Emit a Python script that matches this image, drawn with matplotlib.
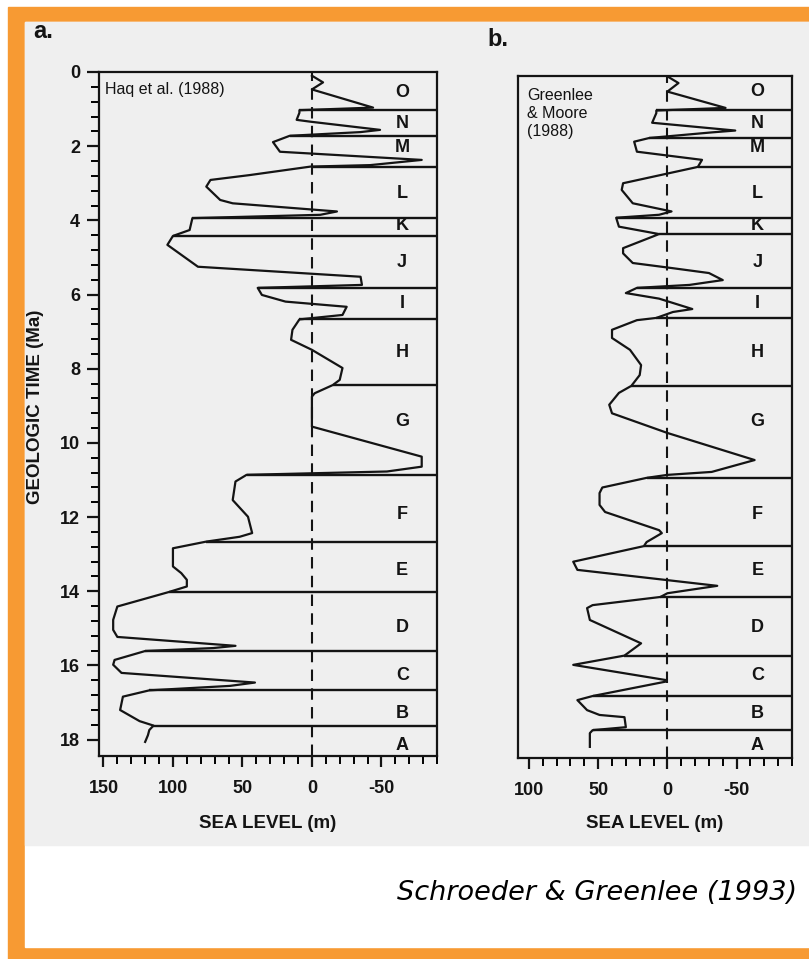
import numpy as np
import matplotlib
matplotlib.use("Agg")
import matplotlib.pyplot as plt
from matplotlib.patches import Rectangle

W, H = 809, 959

# ---- sea-level curves (age in Ma, sea level in m) ----
haq_age = [0.10, 0.28, 0.47, 0.96, 1.03, 1.10, 1.29, 1.34, 1.56, 1.62, 1.72, 1.89,
           2.15, 2.37, 2.51, 2.55, 2.78, 2.91, 3.09, 3.45, 3.54, 3.76, 3.85, 3.94,
           4.26, 4.42, 4.66, 5.25, 5.52, 5.74, 5.82, 6.01, 6.19, 6.33, 6.55, 6.67,
           6.95, 7.22, 7.31, 7.49, 7.98, 8.30, 8.44, 8.66, 8.75, 9.56, 10.37, 10.64,
           10.77, 10.86, 11.04, 11.54, 11.99, 12.43, 12.53, 12.66, 12.84, 13.33, 13.51,
           13.69, 13.87, 14.02, 14.41, 14.77, 15.04, 15.23, 15.47, 15.53, 15.61, 15.85,
           15.98, 16.20, 16.46, 16.55, 16.67, 16.84, 17.20, 17.50, 17.62, 17.74, 17.88,
           18.06]
haq_sl = [0, -8, 0, -44, 9, 9, 11, 1, -49, -35, 16, 28,
          23, -79, -42, 1, 45, 73, 76, 66, 57, -18, -6, 86,
          88, 100, 104, 82, -35, -36, 39, 36, 19, -25, -22, 9,
          14, 15, 10, 0, -22, -20, -15, -2, 0, 0, -79, -79,
          -54, 47, 55, 57, 46, 43, 52, 76, 100, 100, 94,
          90, 90, 103, 140, 143, 143, 140, 55, 71, 120, 142,
          143, 137, 41, 59, 117, 136, 138, 124, 114, 117, 118,
          120]
haq_bounds = [1.03, 1.72, 2.55, 3.94, 4.42, 5.82, 6.67, 8.44, 10.86, 12.66,
              14.02, 15.61, 16.67, 17.62]
haq_bound_start = [9, 16, 1, 86, 100, 39, 9, -15, 47, 76, 103, 120, 117, 114]

gm_age = [0.12, 0.30, 0.53, 0.97, 1.04, 1.11, 1.37, 1.58, 1.63, 1.78, 1.88, 2.15,
          2.37, 2.56, 3.00, 3.18, 3.54, 3.76, 3.85, 3.93, 4.17, 4.37, 4.75, 4.89,
          5.15, 5.29, 5.42, 5.61, 5.74, 5.82, 5.96, 6.11, 6.39, 6.47, 6.63, 6.69,
          6.95, 7.17, 7.49, 7.90, 8.17, 8.46, 8.65, 8.97, 9.20, 9.73, 10.46, 10.78,
          10.86, 10.94, 11.20, 11.35, 11.67, 11.86, 12.35, 12.43, 12.67, 12.78, 13.20,
          13.42, 13.56, 13.85, 14.05, 14.15, 14.37, 14.45, 14.77, 15.40, 15.73, 15.98,
          16.39, 16.43, 16.82, 16.93, 17.20, 17.33, 17.39, 17.66, 17.74, 17.82, 18.19]
gm_sl = [0, -8, 0, -42, 8, 8, 11, -49, -32, 13, 24, 22,
         -25, -22, 32, 33, 25, -3, 6, 37, 35, 6, 32, 32,
         25, -4, -30, -40, -16, 22, 30, 6, -18, -4, 8, 22,
         40, 40, 27, 19, 20, 26, 35, 42, 40, 0, -63, -32,
         0, 15, 47, 49, 49, 45, 6, 4, 15, 17, 68,
         65, 32, -36, 0, 5, 54, 58, 56, 19, 31, 68,
         1, 1, 54, 65, 58, 49, 31, 30, 54, 56, 56]
gm_bounds = [1.02, 1.78, 2.56, 3.93, 4.37, 5.82, 6.63, 8.46, 10.94, 12.78,
             14.15, 15.73, 16.82, 17.74]
gm_bound_start = [8, 13, -22, 37, 6, 22, 8, 26, 15, 17, 5, 31, 54, 54]

seq_labels = ["O", "N", "M", "L", "K", "J", "I", "H", "G", "F", "E", "D", "C", "B", "A"]
seq_label_age = [0.54, 1.40, 2.03, 3.27, 4.14, 5.14, 6.23, 7.55, 9.41, 11.93,
                 13.45, 14.98, 16.28, 17.30, 18.15]

ink = "#141414"
plt.rcParams['font.family'] = ['Liberation Sans', 'DejaVu Sans']


def px_box(x0, y0, x1, y1):
    return [x0 / W, 1 - y1 / H, (x1 - x0) / W, (y1 - y0) / H]


fig = plt.figure(figsize=(W / 100, H / 100), dpi=100)
fig.patch.set_facecolor("white")
# orange frame + scanned page background
fig.add_artist(Rectangle((8 / W, 0), 1, 1 - 7 / H, transform=fig.transFigure,
                         color="#F79A33", zorder=0))
fig.add_artist(Rectangle((25 / W, 12 / H), 1, 1 - 22 / H - 12 / H,
                         transform=fig.transFigure, color="white", zorder=0))
fig.add_artist(Rectangle((25 / W, 1 - 845 / H), 1, (845 - 22) / H,
                         transform=fig.transFigure, color="#EFEFEF", zorder=0))


def draw_panel(ax, age, sl, bounds, starts, xlim, ylim, xmaj):
    ax.set_facecolor("none")
    ax.set_xlim(xlim)
    ax.set_ylim(ylim)
    ax.axvline(0, color=ink, lw=1.5, ls=(0, (5.5, 3.5)), zorder=2)
    ax.plot(sl, age, color=ink, lw=1.6, zorder=3)
    ax.hlines(bounds, starts, xlim[1], color=ink, lw=1.7, zorder=3)
    for lab, t in zip(seq_labels, seq_label_age):
        ax.text(-65, t, lab, ha="center", va="center", fontsize=13,
                fontweight="bold", color=ink)
    for s in ax.spines.values():
        s.set_linewidth(1.6)
        s.set_color(ink)
    ax.set_xticks(xmaj)
    ax.set_xticks(np.arange(-90, xmaj[0] + 1, 10), minor=True)
    ax.set_xticklabels([str(v) for v in xmaj])
    ax.tick_params(axis="x", which="major", direction="out", length=8, width=1.6,
                   pad=9, labelsize=13, colors=ink)
    ax.tick_params(axis="x", which="minor", direction="out", length=6, width=1.4)
    for t in ax.get_xticklabels():
        t.set_fontweight("bold")
    ax.set_xlabel("SEA LEVEL (m)", fontsize=13.5, fontweight="bold", color=ink)


ax_a = fig.add_axes(px_box(99, 72, 437, 756))
draw_panel(ax_a, haq_age, haq_sl, haq_bounds, haq_bound_start,
           (153.2, -90), (18.44, 0), [150, 100, 50, 0, -50])
ax_a.set_yticks(np.arange(0, 19, 2))
ax_a.set_yticks(np.arange(0, 18.01, 0.4), minor=True)
ax_a.tick_params(axis="y", which="major", direction="out", length=8.5, width=1.6,
                 pad=5, labelsize=13, colors=ink)
ax_a.tick_params(axis="y", which="minor", direction="out", length=5.5, width=1.4)
for t in ax_a.get_yticklabels():
    t.set_fontweight("bold")
ax_a.set_ylabel("GEOLOGIC TIME (Ma)", fontsize=13.5, fontweight="bold", color=ink)
ax_a.yaxis.set_label_coords((44 - 99) / 338, 0.51)
ax_a.xaxis.set_label_coords(0.5, (756 - 815) / 684)
ax_a.text(0.018, 0.974, "Haq et al. (1988)", transform=ax_a.transAxes,
          ha="left", va="center", fontsize=11.5, color=ink)

ax_b = fig.add_axes(px_box(518, 76, 792, 758))
draw_panel(ax_b, gm_age, gm_sl, gm_bounds, gm_bound_start,
           (107.9, -89.2), (18.49, 0.11), [100, 50, 0, -50])
ax_b.set_yticks([])
ax_b.xaxis.set_label_coords(0.5, (758 - 815) / 682)
ax_b.text(0.033, 0.982, "Greenlee\n& Moore\n(1988)", transform=ax_b.transAxes,
          ha="left", va="top", fontsize=11.5, linespacing=1.22, color=ink)

fig.text(33 / W, 1 - 32 / H, "a.", fontsize=17, fontweight="bold", color=ink,
         ha="left", va="center")
fig.text(487 / W, 1 - 40 / H, "b.", fontsize=17, fontweight="bold", color=ink,
         ha="left", va="center")
fig.text(797 / W, 1 - 893 / H, "Schroeder & Greenlee (1993)", fontsize=19.5,
         style="italic", family="DejaVu Sans", ha="right", va="center", color="black")

fig.savefig("out.png", dpi=100)
